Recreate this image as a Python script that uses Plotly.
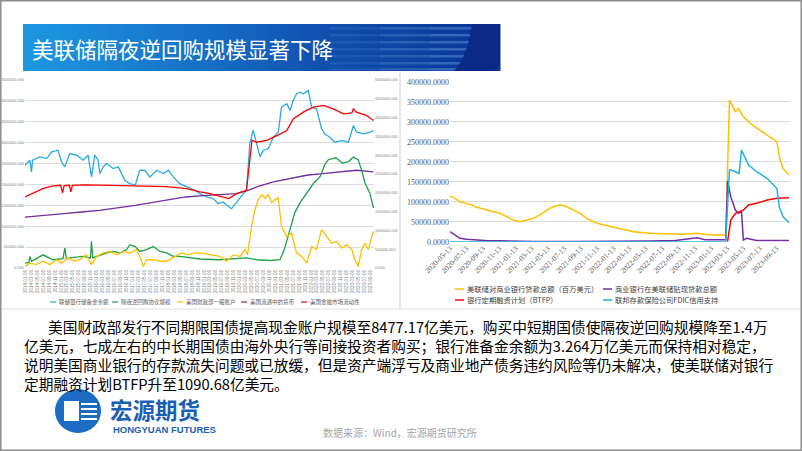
import plotly.graph_objects as go

W, H = 802, 451

# ---------------- Left chart data (million USD) ----------------
reserve_dates = ["2014-01-01","2014-02-20","2014-03-08","2014-03-20","2014-06-01","2014-08-10","2014-10-01","2014-12-05",
                 "2015-01-10","2015-02-12","2015-04-03","2015-06-12","2015-08-18","2015-10-08","2015-11-12","2015-12-15",
                 "2016-01-18","2016-02-06","2016-03-10","2016-04-15","2016-06-20","2016-08-12","2016-10-18","2016-12-08",
                 "2017-02-01","2017-03-20","2017-05-10","2017-07-01","2017-09-10","2017-11-15",
                 "2018-01-06","2018-02-25","2018-05-03","2018-07-12","2018-10-04","2018-11-25",
                 "2019-02-03","2019-04-10","2019-06-01","2019-07-20","2019-08-25","2019-10-15","2019-12-05",
                 "2020-02-12","2020-03-15","2020-04-18","2020-05-22","2020-06-27","2020-08-01","2020-09-03","2020-10-25","2020-12-15",
                 "2021-02-03","2021-03-08","2021-05-01","2021-06-03","2021-07-06","2021-08-10","2021-09-13","2021-10-16","2021-12-07",
                 "2022-01-10","2022-03-01","2022-04-22","2022-05-25","2022-07-15","2022-09-06","2022-11-15",
                 "2023-01-22","2023-03-13","2023-04-15","2023-06-22","2023-09-01","2023-10-04"]
reserve_vals = [2460000,2580000,2300000,2580000,2660000,2620000,2780000,2820000,
                2540000,2420000,2740000,2700000,2580000,2700000,2180000,2700000,
                2580000,2260000,2420000,2500000,2380000,2420000,2100000,2020000,
                1980000,2340000,2340000,2180000,2340000,2260000,
                2340000,2180000,2020000,1940000,1860000,1780000,
                1700000,1660000,1540000,1580000,1500000,1420000,1580000,
                1780000,1860000,2980000,3300000,2940000,2660000,2820000,2860000,3130000,
                3250000,3850000,3930000,3770000,4010000,4170000,4210000,4170000,4250000,
                3850000,3810000,3330000,3210000,3130000,3010000,3050000,
                3010000,3410000,3250000,3210000,3250000,3290000]

rrp_dates = ["2014-01-01","2014-02-10","2014-02-20","2014-03-08","2014-07-05","2014-10-15",
             "2015-01-25","2015-02-12","2015-03-01","2015-04-03","2015-08-18","2015-11-01","2015-11-12","2015-11-25",
             "2016-04-15","2016-06-20","2016-08-28","2016-11-06","2016-12-08",
             "2017-02-01","2017-03-20","2017-05-28","2017-08-04","2017-10-12","2017-12-19",
             "2018-02-25","2018-05-03","2018-08-15","2018-11-25","2019-06-15",
             "2020-03-15","2020-06-27","2020-11-12",
             "2021-02-20","2021-04-05","2021-06-03","2021-07-20","2021-09-13","2021-11-20",
             "2022-02-01","2022-04-10","2022-05-25","2022-06-30","2022-09-15","2022-11-20",
             "2023-01-22","2023-03-13","2023-05-01","2023-06-05","2023-07-10","2023-08-28","2023-10-04"]
rrp_vals = [130000,150000,310000,180000,350000,220000,
            250000,530000,240000,270000,310000,270000,710000,270000,
            400000,440000,400000,490000,620000,
            570000,440000,490000,570000,440000,400000,
            310000,310000,280000,240000,220000,
            270000,220000,200000,
            220000,490000,1020000,1460000,1730000,1990000,
            2260000,2440000,2750000,2880000,2930000,2790000,
            2830000,2950000,2880000,2610000,2260000,1990000,1600000]

tga_dates = ["2014-01-01","2014-02-20","2014-04-28","2014-07-05","2014-09-12","2014-11-20",
             "2015-01-10","2015-03-18","2015-05-25","2015-07-15","2015-09-22","2015-11-12",
             "2016-01-04","2016-03-10","2016-05-18","2016-07-25","2016-10-01","2016-12-08",
             "2017-02-15","2017-03-20","2017-04-25","2017-05-28","2017-08-04","2017-10-12","2017-12-19",
             "2018-02-25","2018-05-22","2018-07-28","2018-10-04","2018-11-25",
             "2019-03-07","2019-06-16","2019-08-25","2019-11-01",
             "2020-01-10","2020-02-28","2020-03-25","2020-05-06","2020-06-10","2020-07-13","2020-08-18","2020-09-20","2020-10-25","2020-11-28",
             "2021-01-01","2021-02-03","2021-03-08","2021-05-01","2021-06-18","2021-08-10","2021-10-01","2021-11-20",
             "2022-01-12","2022-03-01","2022-04-22","2022-06-12","2022-08-03","2022-09-24","2022-11-15",
             "2023-01-04","2023-02-25","2023-03-28","2023-05-01","2023-06-06","2023-07-10","2023-08-12","2023-09-15","2023-10-04"]
tga_vals = [40000,130000,90000,180000,90000,220000,
            130000,270000,180000,220000,350000,90000,
            310000,400000,440000,350000,440000,400000,
            490000,310000,40000,220000,220000,180000,180000,
            270000,400000,350000,400000,400000,
            350000,310000,180000,350000,
            310000,490000,350000,1110000,1550000,1820000,1950000,1860000,1950000,1730000,
            1820000,1860000,1110000,840000,930000,400000,310000,130000,
            570000,490000,1020000,840000,660000,710000,530000,
            620000,490000,220000,40000,490000,660000,490000,840000,970000]

cur_dates = ["2014-01-01","2014-09-01","2015-02-01","2015-08-01","2016-02-01","2017-02-01","2018-01-01","2018-07-01",
             "2019-02-01","2019-12-01","2020-04-01","2020-06-27","2020-12-15","2021-06-03","2021-11-20","2022-05-01",
             "2022-10-15","2023-04-15","2023-10-04"]
cur_vals = [1220000,1280000,1300000,1340000,1380000,1500000,1620000,1700000,
            1740000,1780000,1860000,1940000,2060000,2140000,2220000,2260000,
            2300000,2340000,2300000]

mmf_dates = ["2014-01-01","2014-04-01","2014-07-01","2014-10-01","2015-01-01","2015-01-20","2015-02-05","2015-04-01",
             "2015-04-15","2015-05-01","2015-09-01","2016-06-01","2017-06-01","2017-12-19","2018-07-12","2018-11-25",
             "2019-03-07","2019-09-15","2019-12-05","2020-03-15","2020-04-18","2020-05-10","2020-06-27","2020-10-15",
             "2021-01-20","2021-05-01","2021-07-06","2021-10-16","2022-01-28","2022-05-10","2022-08-20","2022-12-01",
             "2023-02-25","2023-03-13","2023-04-15","2023-07-28","2023-10-04"]
mmf_vals = [1700000,1800000,1900000,1960000,1980000,1800000,1970000,1980000,
            1820000,1980000,1990000,1980000,1970000,1950000,1900000,1820000,
            1780000,1660000,1780000,1860000,2580000,3060000,3010000,3060000,
            3170000,3290000,3570000,3730000,3850000,3890000,3810000,3690000,
            3710000,3810000,3730000,3650000,3530000]

left_names = ["联储银行储备金余额", "隔夜逆回购协议规模", "美国财政部一般账户", "美国流通中的货币", "美国金融市场流动性"]
left_colors = ["#29abe2", "#1fa246", "#ffc000", "#7030a0", "#ff0000"]

left_y_ticks = [0, 500000, 1000000, 1500000, 2000000, 2500000, 3000000, 3500000, 4000000, 4500000]
right_y_ticks_left_chart = [0, 500000, 1000000, 1500000, 2000000, 2500000, 3000000, 3500000, 4000000, 4500000, 5000000]
left_x_ticks = ["%d-%02d-06" % (y, m) for y in range(2014, 2024) for m in range(1, 13, 2)
                if not (y == 2023 and m > 9)]

# ---------------- Right chart data (million USD) ----------------
loan_dates = ["2020-05-13","2020-05-31","2020-06-19","2020-07-15","2020-08-03","2020-08-15","2020-09-03","2020-09-28","2020-10-22","2020-11-16","2020-12-12",
              "2021-01-05","2021-01-31","2021-02-25","2021-03-20","2021-04-14","2021-05-09","2021-06-03","2021-06-28","2021-07-22","2021-08-16","2021-09-11","2021-10-05","2021-10-30","2021-11-24",
              "2022-01-26","2022-03-28","2022-05-28","2022-07-31","2022-09-30","2022-11-22",
              "2023-01-10","2023-03-08","2023-03-22","2023-04-13","2023-04-25","2023-05-13","2023-06-08","2023-07-13","2023-08-22","2023-09-15","2023-09-27","2023-10-08","2023-10-30"]
loan_vals = [114000,108500,100000,96000,92000,87500,83500,79000,75000,71000,62500,
             54000,50000,54000,58500,67000,79000,87500,92000,87500,79000,71000,58500,50000,44000,
             33500,25000,21000,19000,18500,21000,
             17000,17000,354000,325000,333000,312000,296000,279000,262000,250000,204000,183000,167000]

dw_dates = ["2020-05-13","2020-05-31","2020-06-19","2020-07-15","2020-08-20","2020-10-01","2020-11-16",
            "2021-03-20","2021-09-01","2022-01-01","2022-06-01","2022-09-01","2022-11-22","2022-12-20",
            "2023-03-08","2023-03-15","2023-03-27","2023-04-13","2023-04-25","2023-05-06","2023-05-13","2023-05-25","2023-07-01","2023-10-30"]
dw_vals = [25000,17000,8500,6000,4000,2500,2500,
           500,300,500,1500,3000,10000,5000,
           5000,152000,112000,79000,71000,75000,4000,8500,3000,3000]

btfp_dates = ["2023-03-15","2023-03-27","2023-04-13","2023-04-30","2023-05-13","2023-06-01","2023-07-01","2023-08-10","2023-09-15","2023-10-30"]
btfp_vals = [0,54000,71000,75000,79000,92000,96000,104000,108500,110000]

fdic_dates = ["2020-05-13","2023-03-08","2023-03-22","2023-03-27","2023-04-13","2023-04-27","2023-05-06","2023-05-19",
              "2023-06-01","2023-07-01","2023-08-10","2023-09-15","2023-09-24","2023-10-08","2023-10-30"]
fdic_vals = [0,0,179000,180000,175000,171000,229000,212000,192000,175000,158000,133000,87000,62000,47500]

right_names = ["美联储对商业银行贷款总额（百万美元）", "商业银行在美联储贴现贷款总额",
               "银行定期融资计划（BTFP）", "联邦存款保险公司FDIC信用支持"]
right_colors = ["#ffc000", "#7030a0", "#ff0000", "#1fb0e6"]
right_x_ticks = ["%d-%02d-13" % (y, m) for y in range(2020, 2024) for m in range(1, 13, 2)
                 if (2020, 5) <= (y, m) <= (2023, 9)]
right_y_ticks = [0, 50000, 100000, 150000, 200000, 250000, 300000, 350000, 400000]

title_text = "美联储隔夜逆回购规模显著下降"
body_lines = [
    "美国财政部发行不同期限国债提高现金账户规模至8477.17亿美元，购买中短期国债使隔夜逆回购规模降至1.4万",
    "亿美元，七成左右的中长期国债由海外央行等间接投资者购买；银行准备金余额为3.264万亿美元而保持相对稳定，",
    "说明美国商业银行的存款流失问题或已放缓，但是资产端浮亏及商业地产债务违约风险等仍未解决，使美联储对银行",
    "定期融资计划BTFP升至1090.68亿美元。",
]
source_text = "数据来源：Wind，宏源期货研究所"

CJK = "Noto Sans CJK SC"


def px(x):
    return x / W


def py(y):
    return 1 - y / H


fig = go.Figure()

left_series = [(reserve_dates, reserve_vals, "y"), (rrp_dates, rrp_vals, "y2"), (tga_dates, tga_vals, "y2"),
               (cur_dates, cur_vals, "y"), (mmf_dates, mmf_vals, "y")]
for (d, v, ax), name, col in zip(left_series, left_names, left_colors):
    fig.add_trace(go.Scatter(x=d, y=v, name=name, mode="lines", xaxis="x", yaxis=ax,
                             line=dict(color=col, width=1.3)))

right_series = [(loan_dates, loan_vals), (dw_dates, dw_vals), (btfp_dates, btfp_vals), (fdic_dates, fdic_vals)]
for (d, v), name, col in zip(right_series, right_names, right_colors):
    fig.add_trace(go.Scatter(x=d, y=v, name=name, mode="lines", xaxis="x3", yaxis="y3",
                             line=dict(color=col, width=1.5)))

shapes = []
annotations = []

# page frame and chart separators
shapes.append(dict(type="rect", xref="paper", yref="paper", x0=px(0.8), x1=px(801.2), y0=py(450.2), y1=py(0.8),
                   line=dict(color="#8c8c8c", width=1.5), fillcolor="rgba(0,0,0,0)"))
shapes.append(dict(type="line", xref="paper", yref="paper", x0=px(400), x1=px(400), y0=py(309), y1=py(73),
                   line=dict(color="#d0d0d0", width=1)))
shapes.append(dict(type="line", xref="paper", yref="paper", x0=px(2), x1=px(800), y0=py(309), y1=py(309),
                   line=dict(color="#e0e0e0", width=1)))


def lerp_color(stops, x):
    for (x0, c0), (x1, c1) in zip(stops[:-1], stops[1:]):
        if x0 <= x <= x1:
            t = (x - x0) / (x1 - x0)
            return "rgb(%d,%d,%d)" % tuple(round(a + (b - a) * t) for a, b in zip(c0, c1))
    return "rgb(%d,%d,%d)" % stops[-1][1]


# title banner
stops = [(23, (30, 152, 224)), (200, (22, 112, 198)), (330, (16, 78, 172)), (500, (11, 52, 148))]
x = 23
while x < 500:
    x2 = min(x + 6, 500)
    shapes.append(dict(type="rect", xref="paper", yref="paper", x0=px(x), x1=px(x2 + 0.5), y0=py(71), y1=py(24),
                       fillcolor=lerp_color(stops, x + 3), line=dict(width=0), layer="below"))
    x = x2
for sy in [27, 34, 41, 48, 55, 62, 68]:
    for sx0, sx1, op in [(330, 380, 0.15), (380, 430, 0.28), (430, 480, 0.4)]:
        shapes.append(dict(type="rect", xref="paper", yref="paper", x0=px(sx0), x1=px(sx1), y0=py(sy + 2.5), y1=py(sy),
                           fillcolor="rgba(110,170,235,%.2f)" % op, line=dict(width=0), layer="below"))
cap = ("M %f,%f L %f,%f L %f,%f Q %f,%f %f,%f L %f,%f Q %f,%f %f,%f Z" % (
    px(472), py(24), px(500), py(24), px(500), py(60), px(500), py(71), px(488), py(71),
    px(454), py(71), px(468), py(56), px(472), py(24)))
shapes.append(dict(type="path", xref="paper", yref="paper", path=cap, fillcolor="#0a2a86", line=dict(width=0), layer="below"))
annotations.append(dict(xref="paper", yref="paper", x=px(30), y=py(48), xanchor="left", yanchor="middle",
                        text=title_text, showarrow=False, font=dict(family=CJK, size=21.5, color="white")))

# left legend
left_leg_x = [50, 112, 177, 241, 301]
for lx, name, col in zip(left_leg_x, left_names, left_colors):
    shapes.append(dict(type="line", xref="paper", yref="paper", x0=px(lx), x1=px(lx + 6), y0=py(302), y1=py(302),
                       line=dict(color=col, width=1.2)))
    annotations.append(dict(xref="paper", yref="paper", x=px(lx + 6.5), y=py(302), xanchor="left", yanchor="middle",
                            text=name, showarrow=False, font=dict(family=CJK, size=5.5, color="#595959")))

# right legend
right_leg_pos = [(455, 289), (603, 289), (455, 300), (603, 300)]
for (lx, ly), name, col in zip(right_leg_pos, right_names, right_colors):
    shapes.append(dict(type="line", xref="paper", yref="paper", x0=px(lx), x1=px(lx + 9), y0=py(ly), y1=py(ly),
                       line=dict(color=col, width=1.5)))
    annotations.append(dict(xref="paper", yref="paper", x=px(lx + 9.5), y=py(ly), xanchor="left", yanchor="middle",
                            text=name, showarrow=False, font=dict(family=CJK, size=7.3, color="#404040")))

# body text
body_pos = [(46, 326), (22, 345), (22, 364), (22, 383)]
for (bx, by), line in zip(body_pos, body_lines):
    annotations.append(dict(xref="paper", yref="paper", x=px(bx), y=py(by), xanchor="left", yanchor="middle",
                            text=line, showarrow=False, font=dict(family=CJK, size=14.7, color="#000000")))

# logo
shapes.append(dict(type="circle", xref="paper", yref="paper", x0=px(55), x1=px(101), y0=py(433), y1=py(389),
                   fillcolor="#1b6cc2", line=dict(width=0)))
shapes.append(dict(type="rect", xref="paper", yref="paper", x0=px(64), x1=px(79), y0=py(421), y1=py(401),
                   fillcolor="white", line=dict(width=0)))
for ly in [403, 408, 413, 418]:
    shapes.append(dict(type="rect", xref="paper", yref="paper", x0=px(81), x1=px(97), y0=py(ly + 2), y1=py(ly),
                       fillcolor="white", line=dict(width=0)))
annotations.append(dict(xref="paper", yref="paper", x=px(108), y=py(408.5), xanchor="left", yanchor="middle",
                        text="<b>宏源期货</b>", showarrow=False, font=dict(family=CJK, size=22.5, color="#1a5fb4")))
annotations.append(dict(xref="paper", yref="paper", x=px(111), y=py(429.5), xanchor="left", yanchor="middle",
                        text="<b>HONGYUAN FUTURES</b>", showarrow=False, font=dict(family="Liberation Sans", size=9.5, color="#1a5fb4")))
annotations.append(dict(xref="paper", yref="paper", x=px(400), y=py(432), xanchor="center", yanchor="middle",
                        text=source_text, showarrow=False, font=dict(family=CJK, size=10, color="#a6a6a6")))

grid_c = "#dcdcdc"
fig.update_layout(
    template="none",
    width=W, height=H, margin=dict(l=0, r=0, t=0, b=0, pad=0), autosize=False,
    paper_bgcolor="white", plot_bgcolor="rgba(0,0,0,0)", showlegend=False,
    xaxis=dict(domain=[px(25), px(374)], anchor="y", type="date", range=["2014-01-01", "2023-10-10"],
               tickvals=left_x_ticks, ticktext=left_x_ticks, tickangle=-90, automargin=False,
               tickfont=dict(family="Liberation Sans", size=4.5, color="#808080"),
               showgrid=False, showline=False, zeroline=False, ticks=""),
    yaxis=dict(domain=[py(268), py(80)], range=[0, 4500000], tickvals=left_y_ticks, automargin=False,
               ticktext=["%.3f" % v for v in left_y_ticks],
               tickfont=dict(family="Liberation Sans", size=3.9, color="#808080"),
               showgrid=True, gridcolor=grid_c, gridwidth=0.7, zeroline=False, showline=False, ticks=""),
    yaxis2=dict(overlaying="y", side="right", anchor="x", range=[0, 5000000], tickvals=right_y_ticks_left_chart,
                ticktext=["%.3f" % v for v in right_y_ticks_left_chart], automargin=False,
                tickfont=dict(family="Liberation Sans", size=3.9, color="#808080"),
                showgrid=False, zeroline=False, showline=False, ticks=""),
    xaxis3=dict(domain=[px(450), px(790)], anchor="y3", type="date", range=["2020-05-13", "2023-11-03"],
                tickvals=right_x_ticks, ticktext=right_x_ticks, tickangle=-45, automargin=False,
                tickfont=dict(family="Liberation Serif", size=7.5, color="#595959"),
                showgrid=False, showline=False, zeroline=False, ticks=""),
    yaxis3=dict(domain=[py(241.7), py(81.7)], anchor="x3", range=[0, 400000], tickvals=right_y_ticks,
                ticktext=["%.4f" % v for v in right_y_ticks], automargin=False,
                tickfont=dict(family="Liberation Serif", size=8, color="#595959"),
                showgrid=True, gridcolor=grid_c, gridwidth=0.8, zeroline=False, showline=False, ticks=""),
    shapes=shapes, annotations=annotations,
)

fig.write_html("out.html")
